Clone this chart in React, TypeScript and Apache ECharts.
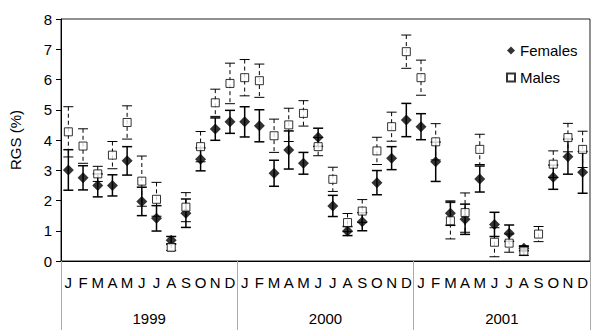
import React, { useEffect, useRef } from "react";
import * as echarts from "echarts";

const months = ["J","F","M","A","M","J","J","A","S","O","N","D"];
const years = ["1999", "2000", "2001"];
const categories: string[] = [...months, ...months, ...months];

const femalesMean: (number | null)[] = [
  3.01, 2.75, 2.5, 2.5, 3.31, 1.97, 1.41, 0.69, 1.58, 3.36, 4.36, 4.6,
  4.6, 4.47, 2.9, 3.67, 3.23, 4.09, 1.82, 0.99, 1.3, 2.59, 3.4, 4.66,
  4.44, 3.28, 1.58, 1.38, 2.71, 1.21, 0.92, 0.42, null, 2.77, 3.45, 2.93,
];
const femalesErr: (number | null)[] = [
  0.67, 0.4, 0.38, 0.35, 0.47, 0.47, 0.42, 0.12, 0.47, 0.38, 0.37, 0.38,
  0.5, 0.53, 0.43, 0.63, 0.36, 0.3, 0.35, 0.15, 0.3, 0.4, 0.38, 0.55,
  0.43, 0.65, 0.4, 0.5, 0.43, 0.4, 0.27, 0.08, null, 0.4, 0.58, 0.69,
];
const malesMean: number[] = [
  4.27, 3.8, 2.88, 3.5, 4.58, 2.64, 2.04, 0.45, 1.78, 3.78, 5.23, 5.87,
  6.06, 5.96, 4.14, 4.5, 4.88, 3.78, 2.7, 1.27, 1.65, 3.64, 4.44, 6.92,
  6.06, 3.94, 1.33, 1.6, 3.69, 0.62, 0.59, 0.33, 0.89, 3.2, 4.08, 3.69,
];
const malesErr: number[] = [
  0.83, 0.57, 0.25, 0.45, 0.55, 0.83, 0.56, 0.1, 0.48, 0.5, 0.45, 0.67,
  0.6, 0.55, 0.55, 0.55, 0.42, 0.3, 0.4, 0.3, 0.38, 0.45, 0.48, 0.55,
  0.58, 0.6, 0.6, 0.65, 0.5, 0.48, 0.3, 0.15, 0.25, 0.44, 0.47, 0.6,
];

const FONT = "Liberation Sans, Arial, sans-serif";

function errData(mean: (number | null)[], err: (number | null)[]) {
  const out: any[] = [];
  mean.forEach((m, i) => {
    const e = err[i];
    if (m == null || e == null) return;
    out.push([i, m - e, m + e]);
  });
  return out;
}

function makeRender(width: number, dash: number[] | null) {
  return (params: any, api: any) => {
    const x = api.value(0);
    const lo = api.coord([x, api.value(1)]);
    const hi = api.coord([x, api.value(2)]);
    const half = 5;
    const style = {
      stroke: "#000",
      lineWidth: width,
      lineDash: dash || undefined,
    };
    return {
      type: "group",
      children: [
        { type: "line", shape: { x1: hi[0], y1: hi[1], x2: lo[0], y2: lo[1] }, style },
        { type: "line", shape: { x1: hi[0] - half, y1: hi[1], x2: hi[0] + half, y2: hi[1] }, style: { stroke: "#000", lineWidth: width } },
        { type: "line", shape: { x1: lo[0] - half, y1: lo[1], x2: lo[0] + half, y2: lo[1] }, style: { stroke: "#000", lineWidth: width } },
      ],
    };
  };
}

export default function App() {
  const ref = useRef<HTMLDivElement>(null);
  useEffect(() => {
    if (!ref.current) return;
    const chart = echarts.init(ref.current, undefined, { renderer: "svg" });
    chart.setOption({
      animation: false,
      backgroundColor: "#fff",
      textStyle: { fontFamily: FONT },
      grid: {
        left: 59, right: -1, top: 19, bottom: 69,
        show: true, borderColor: "#222", borderWidth: 1, backgroundColor: "transparent",
      },
      legend: {
        orient: "vertical",
        left: 501,
        top: 38,
        itemWidth: 8,
        itemHeight: 8,
        itemGap: 12,
        textStyle: { fontSize: 15, color: "#000", fontFamily: FONT },
        data: ["Females", "Males"],
      },
      xAxis: [
        {
          type: "category",
          data: categories,
          boundaryGap: true,
          axisLine: { show: true, lineStyle: { color: "#000", width: 1 } },
          axisTick: { show: false },
          axisLabel: { interval: 0, margin: 14, fontSize: 15, color: "#000", fontFamily: FONT },
          splitLine: { show: false },
        },
        {
          type: "category",
          data: years,
          position: "bottom",
          boundaryGap: true,
          axisLine: { show: false },
          axisTick: { show: true, interval: 0, length: 70, lineStyle: { color: "#aaa", width: 1 } },
          axisLabel: { interval: 0, margin: 50, fontSize: 15, color: "#000", fontFamily: FONT },
          splitLine: { show: false },
        },
      ],
      yAxis: {
        type: "value",
        min: 0,
        max: 8,
        interval: 1,
        name: "RGS (%)",
        nameLocation: "middle",
        nameGap: 38,
        nameRotate: 90,
        nameTextStyle: { fontSize: 15, color: "#000", fontFamily: FONT },
        axisLine: { show: true, lineStyle: { color: "#000", width: 1 } },
        axisTick: { show: true, length: 5, lineStyle: { color: "#000" } },
        axisLabel: { fontSize: 15, color: "#000", margin: 9, fontFamily: FONT },
        splitLine: { show: false },
      },
      series: [
        {
          name: "FemalesErr",
          type: "custom",
          renderItem: makeRender(1.5, null),
          data: errData(femalesMean, femalesErr),
          encode: { x: 0, y: [1, 2] },
          z: 2,
          silent: true,
        },
        {
          name: "MalesErr",
          type: "custom",
          renderItem: makeRender(1, [4, 3]),
          data: errData(malesMean, malesErr),
          encode: { x: 0, y: [1, 2] },
          z: 2,
          silent: true,
        },
        {
          name: "Females",
          type: "scatter",
          symbol: "diamond",
          symbolSize: 11,
          itemStyle: { color: "#000" },
          data: femalesMean.map((v) => (v == null ? "-" : v)),
          z: 3,
        },
        {
          name: "Males",
          type: "scatter",
          symbol: "rect",
          symbolSize: 8,
          itemStyle: { color: "#fff", borderColor: "#000", borderWidth: 1 },
          data: malesMean,
          z: 4,
        },
      ],
    });
    return () => chart.dispose();
  }, []);
  return (
    <div
      ref={ref}
      style={{ position: "fixed", left: 0, top: 0, width: 591, height: 330 }}
    />
  );
}
